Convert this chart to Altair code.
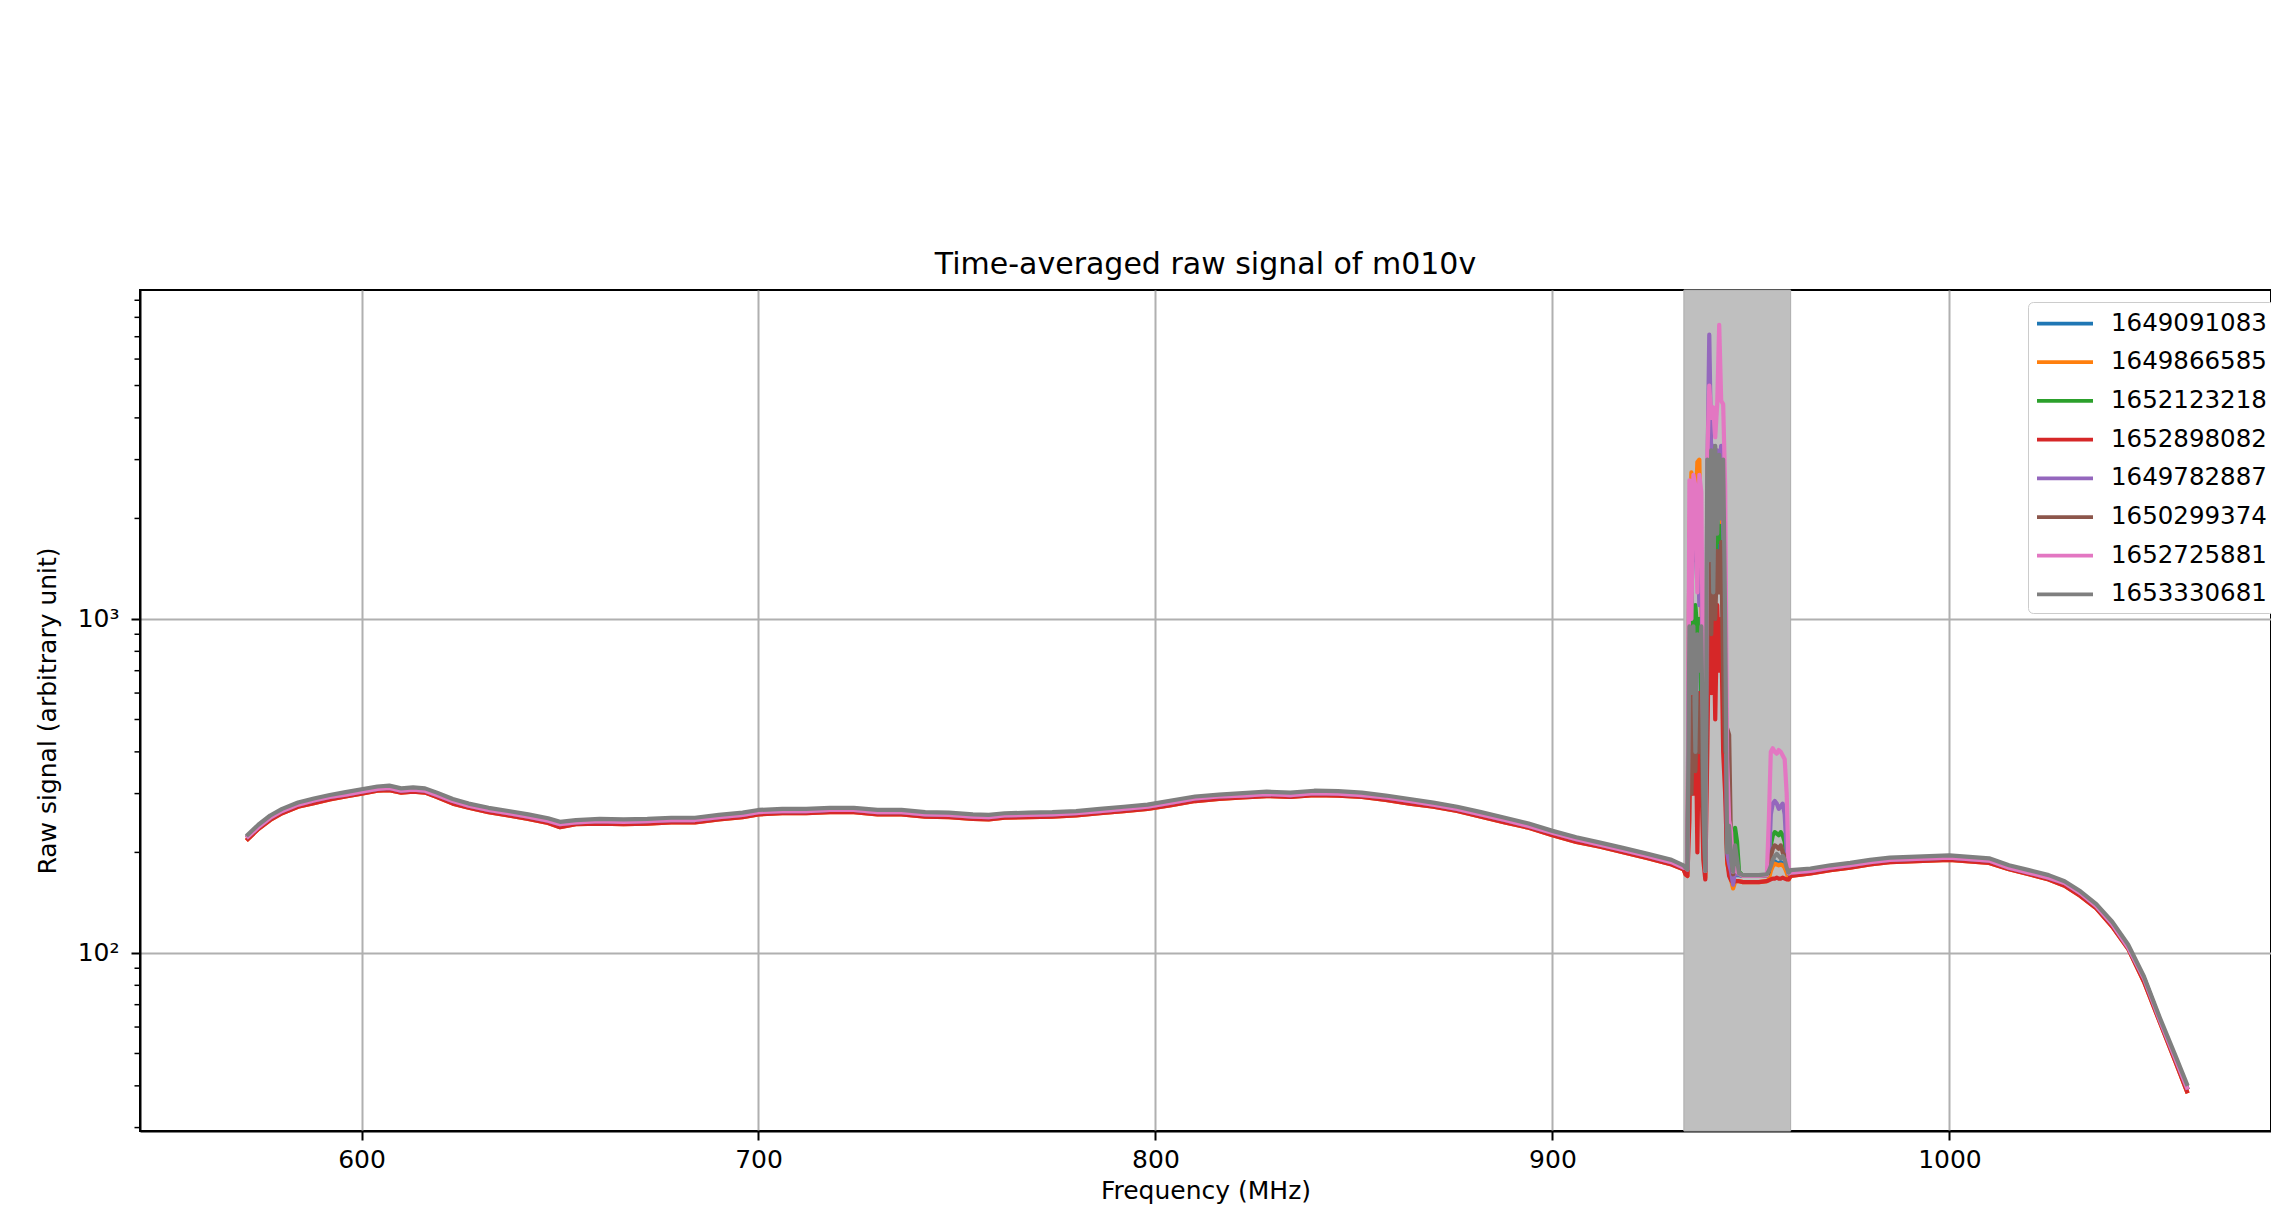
import altair as alt
import pandas as pd

# ---------------- data ----------------
series_names = ["1649091083", "1649866585", "1652123218", "1652898082",
                "1649782887", "1650299374", "1652725881", "1653330681"]
series_colors = ["#1f77b4", "#ff7f0e", "#2ca02c", "#d62728",
                 "#9467bd", "#8c564b", "#e377c2", "#7f7f7f"]

# spectrum below the masked band (MHz)
freq_left = [571, 574, 577, 580, 584, 588, 592, 596, 600, 604,
             607, 610, 613, 616, 619, 623, 627, 632, 637, 642,
             647, 650, 654, 660, 666, 672, 678, 684, 690, 696,
             700, 706, 712, 718, 724, 730, 736, 742, 748, 754,
             758, 762, 768, 774, 780, 786, 792, 798, 804, 810,
             816, 822, 828, 834, 840, 846, 852, 858, 864, 870,
             876, 882, 888, 894, 900, 906, 912, 918, 924, 930,
             933]
upper_left = [224, 242, 258, 270, 282, 290, 297, 303, 309, 315,
              317, 311, 313, 311, 302, 289, 280, 272, 266, 260,
              253, 247, 250, 252, 251, 252, 254, 254, 259, 263,
              268, 270, 270, 272, 272, 268, 268, 264, 263, 260,
              259, 262, 263, 264, 266, 270, 274, 278, 286, 294,
              298, 301, 304, 302, 306, 305, 302, 296, 289, 282,
              274, 264, 254, 244, 232, 222, 214, 206, 198, 190,
              183]
mid_left = [221, 238, 254, 266, 278, 286, 293, 298, 304, 310,
            312, 306, 308, 306, 297, 285, 276, 268, 262, 256,
            249, 243, 246, 248, 247, 248, 250, 250, 255, 259,
            264, 266, 266, 268, 268, 264, 264, 260, 259, 256,
            255, 258, 259, 260, 262, 266, 270, 274, 282, 290,
            294, 296, 299, 297, 301, 300, 297, 292, 285, 278,
            270, 260, 250, 240, 229, 219, 211, 203, 195, 187,
            180]
lower_left = [217, 235, 250, 262, 274, 281, 288, 294, 300, 306,
              307, 302, 304, 302, 293, 280, 272, 264, 258, 252,
              245, 238, 243, 244, 243, 244, 246, 246, 251, 255,
              260, 262, 262, 264, 264, 260, 260, 256, 255, 252,
              251, 254, 255, 256, 258, 262, 266, 270, 277, 285,
              289, 292, 295, 293, 297, 296, 293, 287, 280, 274,
              266, 256, 246, 237, 225, 215, 208, 200, 192, 184,
              178]

# masked RFI band
band_freq = [933.5, 934.0, 934.5, 935.0, 935.5, 936.0, 936.5, 937.0, 937.5, 938.0,
             938.5, 939.0, 939.5, 940.0, 940.5, 941.0, 941.5, 942.0, 942.5, 943.0,
             943.5, 944.0, 944.5, 945.0, 945.5, 946.0, 946.5, 947.0, 948.0, 950.0,
             952.0, 954.0, 954.5, 955.0, 955.5, 956.0, 956.5, 957.0, 957.5, 958.0,
             958.5, 959.0, 959.5]
band_blue = [180, 178, 700, 1100, 800, 1000, 850, 950, 550, 240,
             176, 1100, 1900, 1400, 2000, 1300, 1900, 1600, 1800, 900,
             380, 190, 185, 178, 170, 172, 171, 171, 170, 170,
             170, 171, 172, 178, 185, 188, 186, 185, 187, 185,
             182, 176, 173]
band_orange = [172, 170, 1800, 2750, 1500, 2000, 2950, 3000, 1200, 400,
               168, 2000, 2200, 2700, 2100, 2600, 2000, 2500, 2400, 1500,
               600, 185, 175, 165, 156, 163, 164, 164, 163, 163,
               163, 164, 166, 176, 182, 185, 184, 183, 184, 183,
               180, 174, 166]
band_green = [180, 178, 800, 1200, 700, 1100, 900, 1000, 600, 250,
              176, 1200, 2000, 1500, 2100, 1400, 2000, 1700, 1900, 1000,
              400, 200, 190, 185, 180, 237, 215, 175, 170, 170,
              170, 171, 175, 210, 225, 230, 228, 225, 230, 225,
              215, 190, 173]
band_red = [172, 170, 250, 700, 300, 650, 200, 600, 350, 190,
            166, 400, 1150, 600, 1200, 500, 1100, 700, 1000, 400,
            300, 190, 170, 165, 162, 164, 164, 164, 163, 163,
            163, 164, 165, 166, 167, 167, 168, 167, 167, 168,
            167, 166, 166]
band_purple = [180, 178, 1800, 1200, 1700, 1500, 1800, 1100, 1600, 350,
               176, 2500, 7100, 3000, 3300, 2500, 3200, 2800, 3300, 2000,
               900, 200, 185, 175, 160, 175, 172, 172, 170, 170,
               170, 171, 180, 260, 280, 285, 280, 270, 275, 280,
               260, 200, 173]
band_brown = [180, 178, 600, 300, 580, 350, 600, 400, 500, 250,
              176, 800, 1700, 900, 1750, 1000, 1600, 1200, 1700, 700,
              400, 470, 450, 200, 172, 185, 178, 173, 170, 170,
              170, 171, 175, 195, 205, 210, 208, 205, 210, 200,
              195, 185, 173]
band_pink = [180, 178, 2600, 1000, 2700, 2500, 1200, 2700, 2400, 500,
             176, 3000, 5000, 4000, 4300, 3500, 4400, 7600, 4500, 4400,
             2500, 380, 250, 230, 175, 180, 175, 173, 170, 170,
             170, 171, 250, 400, 410, 400, 395, 405, 400, 390,
             380, 300, 173]
band_gray = [180, 178, 950, 600, 950, 400, 900, 700, 950, 300,
             176, 3000, 1500, 3200, 1200, 3300, 1800, 3100, 2000, 3000,
             1000, 200, 240, 190, 175, 210, 190, 173, 171, 171,
             171, 172, 176, 182, 190, 195, 198, 195, 192, 195,
             190, 180, 174]

# spectrum above the masked band
freq_right = [960, 965, 970, 975, 980, 985, 990, 995, 1000, 1005,
              1010, 1015, 1020, 1025, 1029, 1033, 1037, 1041, 1045, 1049,
              1053, 1057, 1060]
upper_right = [177, 179, 183, 186, 190, 193, 194, 195, 196, 194,
               192, 183, 177, 171, 164, 153, 140, 124, 106, 85,
               64, 49, 40]
mid_right = [174, 176, 180, 183, 187, 190, 191, 192, 193, 191,
             189, 180, 174, 168, 162, 151, 138, 122, 104, 84,
             63, 48, 39]
lower_right = [170, 173, 177, 180, 184, 187, 188, 189, 190, 188,
               186, 178, 172, 166, 159, 148, 136, 120, 103, 82,
               62, 47, 38]

band_start = [933.1]
band_end = [960.0]

x_tick_values = [600, 700, 800, 900, 1000]
y_major_ticks = [100, 1000]
y_minor_ticks = [30, 40, 50, 60, 70, 80, 90,
                 200, 300, 400, 500, 600, 700, 800, 900,
                 2000, 3000, 4000, 5000, 6000, 7000, 8000, 9000]

# ---------------- table ----------------
band_values = [band_blue, band_orange, band_green, band_red,
               band_purple, band_brown, band_pink, band_gray]
trace_level = {"1649091083": "mid", "1649866585": "lower", "1652123218": "mid",
               "1652898082": "lower", "1649782887": "mid", "1650299374": "mid",
               "1652725881": "mid", "1653330681": "upper"}
outside = {"upper": (upper_left, upper_right),
           "mid": (mid_left, mid_right),
           "lower": (lower_left, lower_right)}

rows = []
for name, band in zip(series_names, band_values):
    left, right = outside[trace_level[name]]
    freqs = freq_left + band_freq + freq_right
    vals = left + band + right
    for i, (f, v) in enumerate(zip(freqs, vals)):
        rows.append({"series": name, "freq": f, "signal": v, "idx": i})
df = pd.DataFrame(rows)

band_df = pd.DataFrame({"start": band_start, "end": band_end})
minor_df = pd.DataFrame({"signal": y_minor_ticks})

FONT = "DejaVu Sans"
W, H = 2131, 841

xscale = alt.Scale(domain=[544.2, 1081.0], nice=False, zero=False)
yscale = alt.Scale(type="log", domain=[29.3, 9660], nice=False, zero=False)

x_axis = alt.Axis(title="Frequency (MHz)", values=x_tick_values,
                  format="d", labelFlush=False, labelOverlap=False,
                  tickSize=9, labelPadding=7, titlePadding=6)
y_axis = alt.Axis(title="Raw signal (arbitrary unit)", values=y_major_ticks,
                  labelExpr="datum.value == 100 ? '10²' : '10³'",
                  labelOverlap=False, labelFlush=False, tickSize=9,
                  labelPadding=12, titlePadding=17)
x_enc = alt.X("freq:Q", scale=xscale, axis=x_axis)
y_enc = alt.Y("signal:Q", scale=yscale, axis=y_axis)

legend = alt.Legend(title=None, orient="none", legendX=1888, legendY=12,
                    direction="vertical",
                    symbolType="M-1,0H3.48", symbolSize=625,
                    symbolStrokeWidth=3.75,
                    labelFontSize=24.5, labelFont=FONT, labelColor="black",
                    labelOffset=47, padding=7, rowPadding=12.7,
                    strokeColor="#cccccc", fillColor="white", cornerRadius=5,
                    labelLimit=0)
color_enc = alt.Color("series:N",
                      scale=alt.Scale(domain=series_names, range=series_colors),
                      legend=legend)

band_layer = alt.Chart(band_df).mark_rect(color="#bfbfbf", stroke="#adadad",
                                          strokeWidth=1).encode(
    x=alt.X("start:Q", scale=xscale, axis=x_axis), x2="end:Q")

line_layers = []
for name in series_names:
    line_layers.append(
        alt.Chart(df).transform_filter(alt.datum.series == name)
        .mark_line(strokeWidth=4.2, strokeJoin="round")
        .encode(x=x_enc, y=y_enc, color=color_enc, order="idx:Q")
    )

minor_layer = alt.Chart(minor_df).mark_rule(color="black", strokeWidth=1.5).encode(
    y=y_enc, x=alt.value(-5.5), x2=alt.value(0))

chart = alt.layer(band_layer, *line_layers, minor_layer).properties(
    width=W, height=H,
    title=alt.TitleParams("Time-averaged raw signal of m010v", fontSize=30,
                          font=FONT, fontWeight="normal", color="black",
                          anchor="middle", frame="group", offset=10),
    autosize=alt.AutoSizeParams(type="none"),
    padding={"left": 132, "top": 282, "right": 0, "bottom": 76},
).configure_axis(
    labelFont=FONT, titleFont=FONT, labelFontSize=25, titleFontSize=25,
    labelColor="black", titleColor="black", titleFontWeight="normal",
    domainColor="black", domainWidth=2, tickColor="black", tickWidth=2,
    gridColor="#b0b0b0", gridWidth=2,
).configure_view(
    stroke="black", strokeWidth=2
)

chart.save("out.html", embed_options={"renderer": "svg", "actions": False})
